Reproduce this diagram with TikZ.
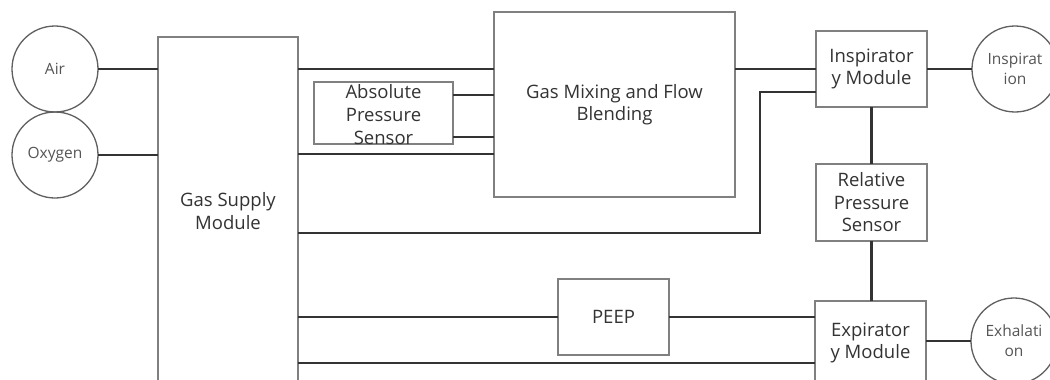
\documentclass[tikz,border=0pt]{standalone}
\usepackage{fontspec}
\setmainfont{Open Sans}
\usetikzlibrary{calc}
\definecolor{ln}{HTML}{333333}
\definecolor{bx}{HTML}{808080}
\definecolor{ci}{HTML}{606060}
\definecolor{tx}{HTML}{333333}
\definecolor{tc}{HTML}{555555}
\tikzset{
  box/.style={draw=bx, line width=1.3pt, rectangle, inner sep=0pt, outer sep=0pt, align=center, text=tx,
    font=\fontsize{18.5}{22.5}\selectfont},
  circ/.style={draw=ci, line width=1.3pt, circle, minimum size=86pt, inner sep=0pt, outer sep=0pt, align=center, text=tc,
    font=\fontsize{15.5}{20}\selectfont},
  conn/.style={draw=ln, line width=2.2pt},
}
\begin{document}
\begin{tikzpicture}[x=1pt,y=-1pt]
\useasboundingbox (0,0) rectangle (1050,380);
\fill[white] (0,0) rectangle (1050,380);
% circles
\node[circ] (air) at (55,69) {Air};
\node[circ] (oxy) at (55,155) {Oxygen};
\node[circ] (insc) at (1015,69) {Inspirat\\ion};
\node[circ] (exhc) at (1014,341) {Exhalati\\on};
% boxes
\node[box, minimum width=140pt, minimum height=348pt] (gsm) at (228,211) {Gas Supply\\Module};
\node[box, minimum width=241pt, minimum height=185pt] (gm) at (614.5,104.5) {Gas Mixing and Flow\\Blending};
\node[box, minimum width=139pt, minimum height=62pt] (aps) at (383.5,113) {};
\node[align=center, text=tx, font=\fontsize{18.5}{23}\selectfont, inner sep=0pt] (apslbl) at (383.5,115) {Absolute\\Pressure\\Sensor};
\node[box, minimum width=111pt, minimum height=76pt] (insp) at (871.5,69) {Inspirator\\y Module};
\node[box, minimum width=111pt, minimum height=77pt] (rps) at (871.5,202.5) {Relative\\Pressure\\Sensor};
\node[box, minimum width=111pt, minimum height=84pt] (exp) at (870.5,343) {Expirator\\y Module};
\node[box, minimum width=111pt, minimum height=76pt] (peep) at (613.5,317) {PEEP};
% helper coordinates
\coordinate (k1) at (760,233);
\coordinate (k2) at (760,92);
\coordinate (k3) at (815,363);
% connectors
\draw[conn] (air.east) -- (air.east -| gsm.west);
\draw[conn] (oxy.east) -- (oxy.east -| gsm.west);
\draw[conn] (gsm.east |- air.east) -- (gm.west |- air.east);
\draw[conn] (gsm.east |- 0,154) -- (gm.west |- 0,154);
\draw[conn] (aps.east |- 0,95) -- (gm.west |- 0,95);
\draw[conn] (aps.east |- 0,137) -- (gm.west |- 0,137);
\draw[conn] (gm.east |- insp.west) -- (insp.west);
\draw[conn] (gsm.east |- k1) -- (k1) -- (k2) -- (k2 -| insp.west);
\draw[conn] (insp.east) -- (insc.west);
\draw[conn] (insp.south) -- (rps.north);
\draw[conn] (rps.south) -- (rps.south |- exp.north);
\draw[conn] (gsm.east |- peep.west) -- (peep.west);
\draw[conn] (peep.east) -- (peep.east -| exp.west);
\draw[conn] (gsm.east |- k3) -- (k3);
\draw[conn] (exp.east |- exhc.west) -- (exhc.west);
\end{tikzpicture}
\end{document}
